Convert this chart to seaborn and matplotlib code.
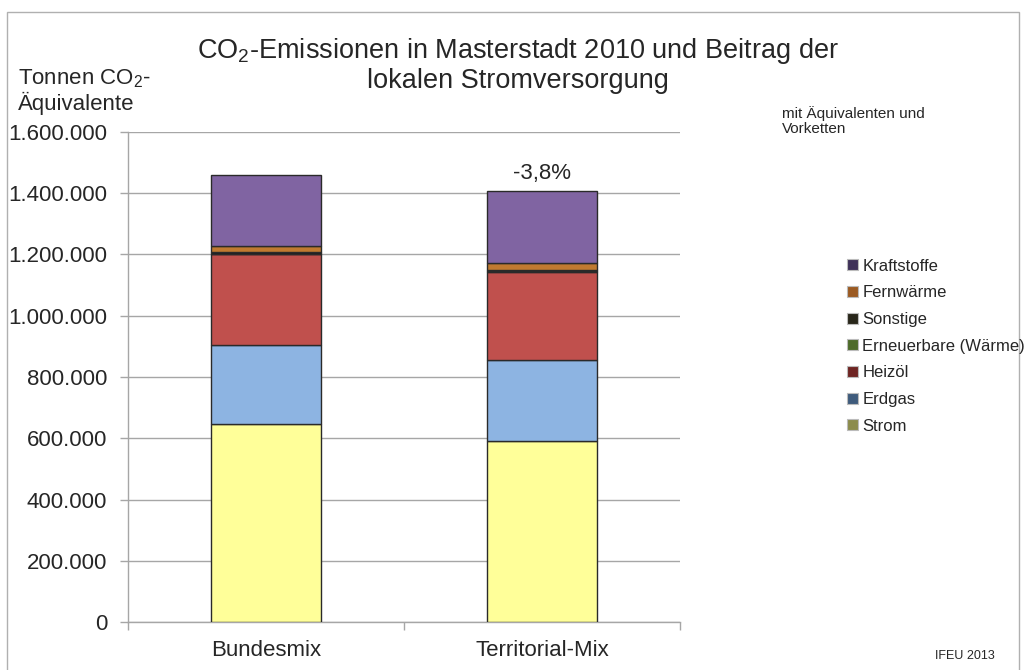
import pandas as pd
import matplotlib
matplotlib.use("Agg")
import matplotlib.pyplot as plt
from matplotlib.patches import Patch, Rectangle
from matplotlib.ticker import FuncFormatter, FixedLocator
import seaborn as sns

# data (t CO2-Äquivalente)
szenarien = ["Bundesmix", "Territorial-Mix"]
sektoren = ["Strom", "Erdgas", "Heizöl", "Erneuerbare (Wärme)", "Sonstige", "Fernwärme", "Kraftstoffe"]
strom = [648000, 592000]
erdgas = [258000, 262000]
heizoel = [295000, 290000]
erneuerbare = [2000, 2000]
sonstige = [5000, 5000]
fernwaerme = [19000, 22000]
kraftstoffe = [234000, 233000]
aenderung = "-3,8%"

bar_farben = ["#ffff99", "#8db4e2", "#c0504d", "#9bbb59", "#1c1c1c", "#c07a30", "#8064a2"]
legende_farben = ["#8c8c4c", "#3f5b7c", "#6e2422", "#4e6b2a", "#28261a", "#9b5a22", "#3f3159"]

sns.set_style("white")
plt.rcParams["font.family"] = ["Liberation Sans", "DejaVu Sans"]
plt.rcParams["mathtext.default"] = "regular"

df = pd.DataFrame({
    "Szenario": szenarien,
    "Strom": strom,
    "Erdgas": erdgas,
    "Heizöl": heizoel,
    "Erneuerbare (Wärme)": erneuerbare,
    "Sonstige": sonstige,
    "Fernwärme": fernwaerme,
    "Kraftstoffe": kraftstoffe,
})

fig = plt.figure(figsize=(10.25, 6.7), dpi=100)
ax = fig.add_axes([128 / 1025, 48 / 670, 552 / 1025, 490 / 670])

unten = [0] * len(szenarien)
for sektor, farbe in zip(sektoren, bar_farben):
    sns.barplot(data=df, x="Szenario", y=sektor, color=farbe, width=0.4,
                bottom=unten, edgecolor="#2a2a2a", linewidth=1.0, ax=ax,
                saturation=1, zorder=3)
    unten = [u + v for u, v in zip(unten, df[sektor])]

ax.set_xlim(-0.5, 1.5)
ax.set_ylim(0, 1600000)
ax.set_yticks(range(0, 1600001, 200000))
ax.yaxis.set_major_formatter(FuncFormatter(lambda v, p: f"{int(v):,}".replace(",", ".")))
ax.grid(axis="y", color="#a6a6a6", linewidth=1.0, zorder=0)
ax.set_axisbelow(True)
ax.set_xlabel("")
ax.set_ylabel("")

for s in ["top", "right"]:
    ax.spines[s].set_visible(False)
for s in ["left", "bottom"]:
    ax.spines[s].set_color("#a6a6a6")
    ax.spines[s].set_linewidth(1.0)

ax.tick_params(axis="y", labelsize=16, length=6, width=1, color="#a6a6a6", pad=9, left=True)
ax.tick_params(axis="x", which="major", labelsize=16, length=0, pad=13)
ax.xaxis.set_minor_locator(FixedLocator([-0.5, 0.5, 1.5]))
ax.tick_params(axis="x", which="minor", length=6, width=1, color="#a6a6a6", bottom=True)

ax.text(1, unten[1] + 25000, aenderung, ha="center", va="bottom", fontsize=16)

fig.text(0.505, 1 - 65 / 670, "CO$_2$-Emissionen in Masterstadt 2010 und Beitrag der\nlokalen Stromversorgung",
         ha="center", va="center", fontsize=19.5, linespacing=1.15)
fig.text(18 / 1025, 1 - 91 / 670, "Tonnen CO$_2$-\nÄquivalente", ha="left", va="center",
         fontsize=16, linespacing=1.1)
fig.text(782 / 1025, 1 - 121 / 670, "mit Äquivalenten und\nVorketten", ha="left", va="center",
         fontsize=11, linespacing=1.15)
fig.text(935 / 1025, 1 - 656 / 670, "IFEU 2013", ha="left", va="center", fontsize=9)

handles = [Patch(facecolor=f, edgecolor="#bbbbbb", linewidth=0.8, label=s)
           for s, f in zip(sektoren, legende_farben)][::-1]
fig.legend(handles=handles, loc="upper left", bbox_to_anchor=(840 / 1025, 1 - 252 / 670),
           frameon=False, fontsize=12, handlelength=0.65, handleheight=0.65,
           handletextpad=0.3, labelspacing=0.7, borderaxespad=0)

fig.add_artist(Rectangle((7 / 1025, -0.05), 1012 / 1025, 1.05 - 12 / 670, transform=fig.transFigure,
                         fill=False, edgecolor="#b0b0b0", linewidth=1.0))

fig.savefig("out.png", dpi=100)
